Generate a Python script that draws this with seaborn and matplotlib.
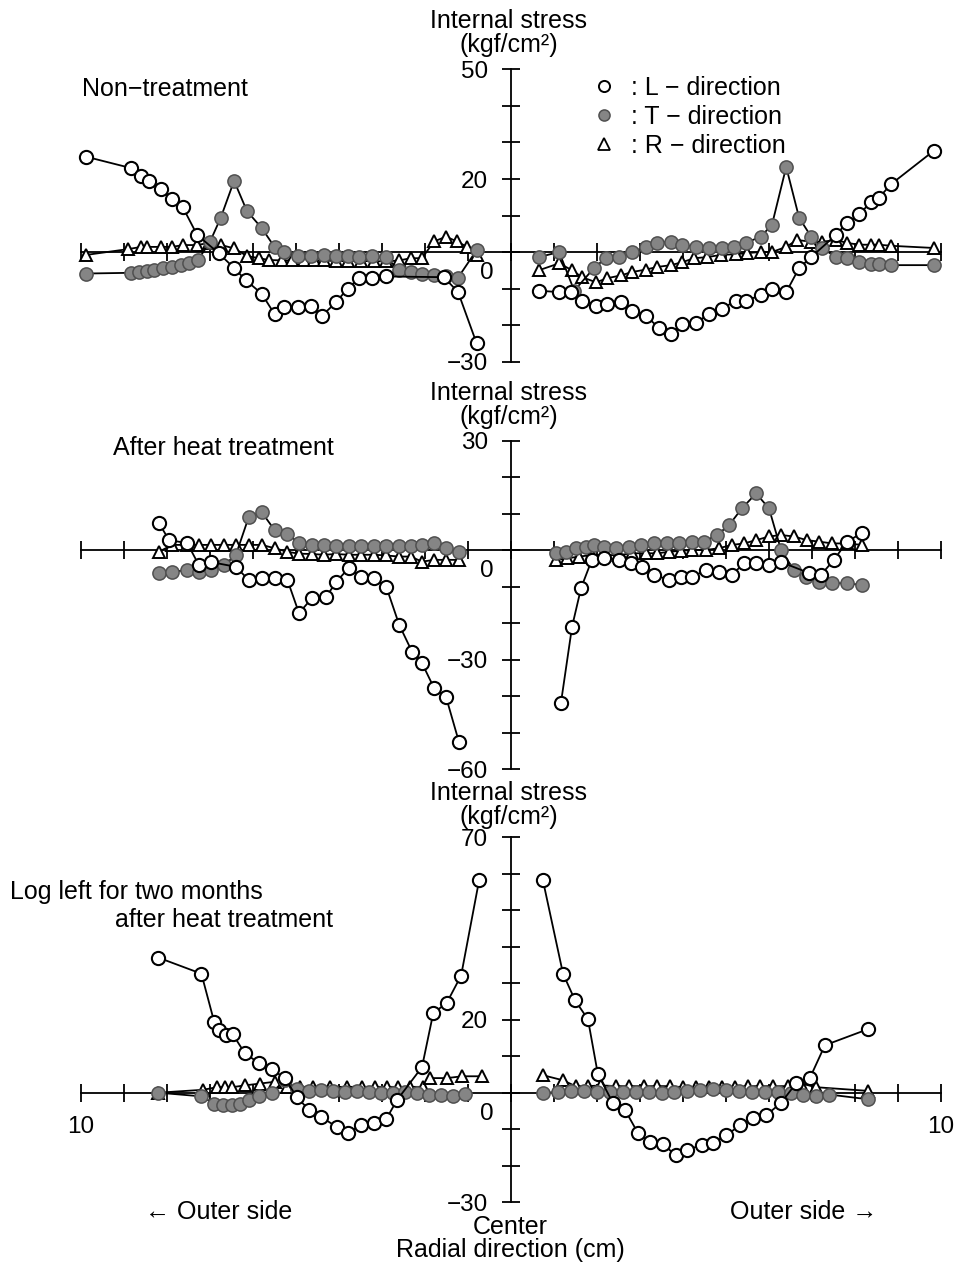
import matplotlib
matplotlib.use("Agg")
import matplotlib.pyplot as plt
from matplotlib.lines import Line2D
import seaborn as sns

# ---------------- data (x in cm from centre: negative = left half, y in kgf/cm^2) -------------
# Panel 1 : Non-treatment
nt_L_left_x = [-9.88, -8.84, -8.6, -8.42, -8.14, -7.88, -7.63, -7.3, -6.8, -6.44, -6.16, -5.8, -5.5,
               -5.28, -4.95, -4.65, -4.4, -4.07, -3.8, -3.53, -3.23, -2.9, -1.56, -1.23, -0.8]
nt_L_left_y = [26.1, 23, 20.8, 19.5, 17.2, 14.4, 12.2, 4.7, -0.3, -4.4, -7.8, -11.4, -17,
               -15.2, -15, -14.7, -17.5, -13.8, -10, -7.2, -7.2, -6.7, -6.9, -11, -25]
nt_T_left_x = [-9.88, -8.84, -8.65, -8.46, -8.3, -8.1, -7.88, -7.67, -7.5, -7.28, -7.0, -6.75, -6.44,
               -6.14, -5.8, -5.5, -5.28, -4.95, -4.65, -4.35, -4.07, -3.8, -3.53, -3.23, -2.9, -2.6,
               -2.33, -2.07, -1.79, -1.51, -1.23, -0.8]
nt_T_left_y = [-5.9, -5.7, -5.5, -5.2, -5.0, -4.5, -4.0, -3.5, -3.0, -2.2, 2.8, 9.4, 19.5,
               11.2, 6.6, 1.4, 0, -1.0, -1.0, -0.8, -1.2, -1.0, -1.3, -1.2, -1.5, -5.0,
               -5.5, -6.0, -6.2, -6.5, -7.0, 0.5]
nt_R_left_x = [-9.88, -8.9, -8.6, -8.46, -8.14, -7.88, -7.63, -7.3, -7.02, -6.74, -6.44, -6.14, -5.86,
               -5.63, -5.33, -5.09, -4.81, -4.58, -4.35, -4.07, -3.8, -3.49, -3.19, -2.9, -2.6,
               -2.33, -2.07, -1.79, -1.51, -1.26, -1.02, -0.79]
nt_R_left_y = [-0.8, 0.8, 1.4, 1.4, 1.4, 1.4, 1.9, 1.9, 2.5, 1.9, 1.0, -1.1, -1.7,
               -2.2, -2.3, -2.3, -2.3, -2.3, -2.3, -2.5, -2.5, -2.5, -2.5, -2.6, -2.3,
               -1.7, -1.7, 2.9, 4.2, 2.9, 1.4, -0.8]
nt_L_right_x = [0.65, 1.12, 1.4, 1.65, 1.98, 2.23, 2.56, 2.81, 3.14, 3.44, 3.72, 3.98, 4.3, 4.6,
                4.9, 5.23, 5.46, 5.81, 6.07, 6.4, 6.7, 6.98, 7.56, 7.81, 8.09, 8.37, 8.56, 8.84, 9.84]
nt_L_right_y = [-10.6, -11, -11, -13.3, -14.7, -14.2, -13.8, -16.1, -17.5, -20.8, -22.5, -19.7, -19.4, -17,
                -15.6, -13.3, -13.3, -11.9, -10, -11, -4.4, -1.4, 4.7, 8, 10.3, 13.6, 14.9, 18.6, 27.8]
nt_T_right_x = [0.65, 1.12, 1.47, 1.93, 2.2, 2.5, 2.81, 3.14, 3.4, 3.72, 3.98, 4.3, 4.6, 4.9,
                5.19, 5.46, 5.81, 6.07, 6.4, 6.7, 6.98, 7.23, 7.56, 7.81, 8.09, 8.37, 8.56, 8.84, 9.84]
nt_T_right_y = [-1.4, 0, -10.6, -4.4, -1.7, -1.4, 0, 1.4, 2.5, 2.8, 1.9, 1.4, 1.1, 1.1,
                1.4, 2.5, 4.2, 7.5, 23.3, 9.4, 4.2, 1.1, -1.4, -1.7, -2.8, -3.2, -3.3, -3.6, -3.6]
nt_R_right_x = [0.65, 1.12, 1.42, 1.65, 1.98, 2.23, 2.56, 2.81, 3.14, 3.4, 3.72, 3.98, 4.26, 4.56,
                4.88, 5.23, 5.49, 5.81, 6.07, 6.4, 6.65, 6.98, 7.23, 7.56, 7.81, 8.09, 8.37, 8.56, 8.84, 9.84]
nt_R_right_y = [-5, -3.1, -5, -6.9, -8.3, -7.2, -6.4, -5.5, -4.8, -4.1, -3.6, -2.8, -1.7, -1.4,
                -0.8, -0.6, -0.3, 0, 0, 1.4, 3.3, 2.8, 2.8, 3.3, 2.5, 2.0, 2.0, 2.0, 1.7, 1.1]

# Panel 2 : After heat treatment
ht_L_left_x = [-8.19, -7.95, -7.53, -7.26, -6.98, -6.4, -6.1, -5.8, -5.5, -5.2, -4.93, -4.63, -4.3,
               -4.07, -3.77, -3.49, -3.19, -2.9, -2.6, -2.3, -2.07, -1.79, -1.51, -1.21]
ht_L_left_y = [7.4, 2.7, 1.9, -4.1, -3.3, -4.6, -8.2, -7.7, -7.7, -8.2, -17.3, -13.2, -12.9,
               -8.8, -4.9, -7.4, -7.7, -10.1, -20.5, -27.9, -31, -37.8, -40.3, -52.6]
ht_T_left_x = [-8.19, -7.88, -7.53, -7.26, -6.98, -6.67, -6.4, -6.1, -5.8, -5.5, -5.2, -4.93, -4.63,
               -4.35, -4.07, -3.77, -3.49, -3.19, -2.9, -2.6, -2.33, -2.07, -1.79, -1.51, -1.21]
ht_T_left_y = [-6.3, -6.0, -5.5, -6.0, -5.5, -4.1, -1.4, 9.0, 10.4, 5.5, 4.4, 1.9, 1.5,
               1.4, 1.2, 1.2, 1.1, 1.1, 1.0, 1.0, 1.0, 1.5, 1.8, 0.5, -0.5]
ht_R_left_x = [-8.19, -7.88, -7.53, -7.26, -6.98, -6.67, -6.4, -6.1, -5.8, -5.5, -5.2, -4.93, -4.63,
               -4.35, -4.07, -3.77, -3.49, -3.19, -2.9, -2.6, -2.33, -2.07, -1.79, -1.51, -1.21]
ht_R_left_y = [-0.5, 1.4, 1.4, 1.4, 1.4, 1.4, 1.4, 1.4, 1.4, 0.5, -0.5, -1.0, -1.1,
               -1.3, -1.1, -1.3, -1.3, -1.3, -1.5, -1.8, -1.8, -3.2, -2.7, -2.7, -2.7]
ht_L_right_x = [1.16, 1.42, 1.63, 1.88, 2.16, 2.5, 2.79, 3.05, 3.33, 3.67, 3.95, 4.21, 4.53,
                4.84, 5.14, 5.42, 5.7, 6.0, 6.28, 6.93, 7.21, 7.51, 7.81, 8.16]
ht_L_right_y = [-42, -21, -10.4, -2.7, -2.2, -2.7, -3.6, -4.6, -6.8, -8.2, -7.4, -7.4, -5.5,
                -6.0, -6.8, -3.6, -3.6, -4.1, -3.3, -6.3, -6.8, -2.7, 2.2, 4.7]
ht_T_right_x = [1.05, 1.28, 1.51, 1.74, 1.93, 2.16, 2.44, 2.74, 3.02, 3.33, 3.63, 3.91, 4.21,
                4.49, 4.79, 5.07, 5.37, 5.7, 6.0, 6.28, 6.58, 6.86, 7.16, 7.47, 7.81, 8.16]
ht_T_right_y = [-0.9, -0.5, 0.5, 0.9, 1.4, 0.9, 0.5, 0.9, 1.4, 1.8, 2.0, 2.0, 2.3,
                2.3, 4.1, 6.8, 11.4, 15.5, 11.4, 0, -5.5, -7.3, -8.7, -9.1, -9.1, -9.6]
ht_R_right_x = [1.05, 1.3, 1.58, 1.88, 2.16, 2.51, 2.81, 3.14, 3.4, 3.67, 3.95, 4.21, 4.53,
                4.84, 5.14, 5.42, 5.7, 6.0, 6.28, 6.58, 6.88, 7.16, 7.47, 7.81, 8.16]
ht_R_right_y = [-2.7, -2.3, -1.8, -1.4, -1.4, -1.4, -0.9, -0.9, -0.9, -0.5, -0.2, 0, 0,
                0.5, 1.4, 1.8, 2.7, 3.7, 4.1, 3.7, 2.7, 2.3, 1.8, 1.8, 1.4]

# Panel 3 : Log left for two months after heat treatment
tm_L_left_x = [-8.2, -7.2, -6.9, -6.8, -6.63, -6.47, -6.19, -5.86, -5.56, -5.26, -4.98, -4.7, -4.42,
               -4.05, -3.79, -3.49, -3.19, -2.9, -2.65, -2.07, -1.81, -1.49, -1.16, -0.74]
tm_L_left_y = [37, 32.6, 19.3, 17.1, 15.7, 16, 10.8, 8.1, 6.4, 4, -1.2, -4.7, -6.6,
               -9.4, -11, -8.8, -8.3, -7.2, -2, 7, 21.7, 24.7, 32.1, 58.3]
tm_T_left_x = [-8.2, -7.2, -6.9, -6.7, -6.5, -6.3, -6.1, -5.86, -5.56, -5.26, -4.98, -4.7, -4.42,
               -4.14, -3.86, -3.58, -3.3, -3.02, -2.74, -2.46, -2.18, -1.9, -1.62, -1.34, -1.06]
tm_T_left_y = [0, -1, -3, -3.3, -3.3, -3, -2, -1, 0, 3.5, 1.0, 0.5, 0.8,
               0.5, 0.3, 0.5, 0.3, 0, 0, 0.3, 0, -0.5, -0.6, -0.8, -0.3]
tm_R_left_x = [-8.2, -7.16, -6.84, -6.65, -6.49, -6.19, -5.84, -5.49, -5.21, -4.91, -4.6, -4.21,
               -3.81, -3.47, -3.16, -2.88, -2.63, -2.35, -2.05, -1.88, -1.49, -1.14, -0.67]
tm_R_left_y = [0, 0.8, 1.5, 1.5, 1.5, 2.0, 2.5, 3.0, 1.5, 1.6, 1.6, 1.6,
               1.6, 1.6, 1.6, 1.6, 1.6, 1.6, 1.6, 4.0, 4.0, 4.5, 4.5]
tm_L_right_x = [0.74, 1.21, 1.49, 1.79, 2.02, 2.37, 2.65, 2.95, 3.23, 3.53, 3.83, 4.09, 4.44,
                4.7, 5.0, 5.33, 5.63, 5.93, 6.28, 6.63, 6.95, 7.3, 8.3]
tm_L_right_y = [58.3, 32.6, 25.3, 20.1, 5.1, -2.8, -4.7, -11, -13.5, -14.1, -17.1, -15.7, -14.3,
                -13.8, -11.7, -8.9, -7, -6.2, -2.8, 2.6, 4, 13, 17.4]
tm_T_right_x = [0.74, 1.1, 1.4, 1.7, 2.0, 2.3, 2.6, 2.9, 3.2, 3.5, 3.8, 4.1, 4.4,
                4.7, 5.0, 5.3, 5.6, 5.9, 6.2, 6.5, 6.8, 7.1, 7.4, 8.3]
tm_T_right_y = [-0.2, 0.3, 0.5, 0.5, 0.3, 0.3, 0.3, 0.3, 0.3, 0.0, 0.3, 0.5, 0.8,
                1.0, 0.8, 0.5, 0.3, 0.3, 0.3, 0.0, -0.5, -0.8, -0.5, -1.8]
tm_R_right_x = [0.74, 1.21, 1.5, 1.8, 2.1, 2.45, 2.75, 3.1, 3.4, 3.7, 4.0, 4.3, 4.6,
                4.9, 5.2, 5.5, 5.8, 6.1, 6.45, 6.75, 7.1, 8.3]
tm_R_right_y = [4.8, 3.4, 1.8, 1.8, 2.0, 1.8, 1.8, 1.8, 1.8, 1.8, 1.5, 1.5, 1.5,
                1.5, 1.5, 1.8, 1.8, 1.8, 1.8, 2.5, 1.5, 0.5]

panel_titles = ["Non\u2212treatment", "After heat treatment",
                "Log left for two months", "after heat treatment"]
y_labelled_ticks = [[50, 20, -30], [30, -30, -60], [70, 20, -30]]
y_bounds = [(-30, 50), (-60, 30), (-30, 70)]
legend_labels = [": L \u2212 direction", ": T \u2212 direction", ": R \u2212 direction"]

# ---------------- styling ----------------
sns.set_theme(style="ticks")
plt.rcParams["font.family"] = ["Liberation Sans", "DejaVu Sans"]
plt.rcParams["axes.edgecolor"] = "black"
plt.rcParams["xtick.color"] = "black"
plt.rcParams["ytick.color"] = "black"
plt.rcParams["text.color"] = "black"

W, H = 958, 1268
FS = 18
fig = plt.figure(figsize=(W / 100, H / 100), dpi=100)

CX = 511      # pixel of x = 0
PPC = 43      # pixels per cm
PPU = 3.65    # pixels per kgf/cm2

GRAY = "#858585"
STY = {
    "L": dict(marker="o", markersize=9.5, markerfacecolor="white", markeredgecolor="black",
              markeredgewidth=1.5, zorder=5),
    "T": dict(marker="o", markersize=9.5, markerfacecolor=GRAY, markeredgecolor="#505050",
              markeredgewidth=1.1, zorder=4),
    "R": dict(marker="^", markersize=9, markerfacecolor="white", markeredgecolor="black",
              markeredgewidth=1.4, zorder=3),
}


def make_ax(zero_py, ylo, yhi):
    xlo, xhi = -10.6, 10.6
    left = CX + xlo * PPC
    width = (xhi - xlo) * PPC
    top = zero_py - yhi * PPU
    height = (yhi - ylo) * PPU
    ax = fig.add_axes([left / W, 1 - (top + height) / H, width / W, height / H])
    ax.patch.set_alpha(0)
    return ax, (xlo, xhi, ylo, yhi)


def draw(ax, x, y, kind):
    sns.lineplot(x=x, y=y, ax=ax, sort=False, estimator=None, color="black",
                 linewidth=1.3, legend=False, clip_on=False, **STY[kind])


def ftext(x, y, s, **kw):
    fig.text(x / W, 1 - y / H, s, fontsize=FS, **kw)


panels = [
    (252, (-33, 53), [(nt_R_left_x, nt_R_left_y, "R"), (nt_R_right_x, nt_R_right_y, "R"),
                      (nt_T_left_x, nt_T_left_y, "T"), (nt_T_right_x, nt_T_right_y, "T"),
                      (nt_L_left_x, nt_L_left_y, "L"), (nt_L_right_x, nt_L_right_y, "L")]),
    (550, (-63, 33), [(ht_R_left_x, ht_R_left_y, "R"), (ht_R_right_x, ht_R_right_y, "R"),
                      (ht_T_left_x, ht_T_left_y, "T"), (ht_T_right_x, ht_T_right_y, "T"),
                      (ht_L_left_x, ht_L_left_y, "L"), (ht_L_right_x, ht_L_right_y, "L")]),
    (1092.7, (-33, 73), [(tm_R_left_x, tm_R_left_y, "R"), (tm_R_right_x, tm_R_right_y, "R"),
                         (tm_T_left_x, tm_T_left_y, "T"), (tm_T_right_x, tm_T_right_y, "T"),
                         (tm_L_left_x, tm_L_left_y, "L"), (tm_L_right_x, tm_L_right_y, "L")]),
]

axes = []
for i, (zero_py, (ylo, yhi), series) in enumerate(panels):
    ax, lims = make_ax(zero_py, ylo, yhi)
    for x, y, kind in series:
        draw(ax, x, y, kind)
    ax.set_xlim(lims[0], lims[1])
    ax.set_ylim(lims[2], lims[3])
    ax.set_xlabel("")
    ax.set_ylabel("")
    for s in ["top", "right"]:
        ax.spines[s].set_visible(False)
    for s in ["left", "bottom"]:
        ax.spines[s].set_linewidth(1.3)
        ax.spines[s].set_color("black")
        ax.spines[s].set_zorder(2)
    ax.spines["left"].set_position(("data", 0))
    ax.spines["bottom"].set_position(("data", 0))
    b0, b1 = y_bounds[i]
    ax.spines["left"].set_bounds(b0, b1)
    ax.spines["bottom"].set_bounds(-10, 10)

    xt = list(range(-10, 11))
    ax.set_xticks(xt)
    if i == 2:
        ax.set_xticklabels(["10" if abs(v) == 10 else "" for v in xt])
    else:
        ax.set_xticklabels([""] * len(xt))
    ax.set_yticks(y_labelled_ticks[i])
    ax.set_yticklabels([f"{v:d}".replace("-", "\u2212") for v in y_labelled_ticks[i]])
    ax.set_yticks(list(range(b0, b1 + 1, 10)), minor=True)
    ax.tick_params(axis="both", which="both", direction="inout", length=13, width=1.3,
                   color="black")
    ax.tick_params(axis="both", which="major", labelsize=FS - 0.5, pad=10)
    # the "0" label sits just below the horizontal axis
    ax.annotate("0", xy=(0, 0), xytext=(-17 * 0.72, -21 * 0.72), textcoords="offset points",
                ha="right", va="center", fontsize=FS - 0.5)
    axes.append(ax)

# axis titles
for yc in (21, 393, 793):
    ftext(509, yc, "Internal stress", ha="center", va="center")
    ftext(509, yc + 24, "(kgf/cm\u00b2)", ha="center", va="center")

# panel titles
ftext(82, 89, panel_titles[0], ha="left", va="center")
ftext(113, 448, panel_titles[1], ha="left", va="center")
ftext(10, 892, panel_titles[2], ha="left", va="center")
ftext(115, 920, panel_titles[3], ha="left", va="center")

# legend
handles = [Line2D([], [], linestyle="none", marker="o", markersize=8, markerfacecolor="white",
                  markeredgecolor="black", markeredgewidth=1.4),
           Line2D([], [], linestyle="none", marker="o", markersize=8, markerfacecolor=GRAY,
                  markeredgecolor="#505050", markeredgewidth=1.1),
           Line2D([], [], linestyle="none", marker="^", markersize=8, markerfacecolor="white",
                  markeredgecolor="black", markeredgewidth=1.3)]
axes[0].legend(handles, legend_labels, loc="upper left",
               bbox_to_anchor=(596 / W, 1 - 76 / H), bbox_transform=fig.transFigure,
               frameon=False, fontsize=FS, handlelength=0.6, handletextpad=0.8,
               labelspacing=0.2, borderpad=0, borderaxespad=0)

# bottom texts
ftext(145, 1212, "\u2190 Outer side", ha="left", va="center")
ftext(730, 1212, "Outer side \u2192", ha="left", va="center")
ftext(510, 1227, "Center", ha="center", va="center")
ftext(510, 1250, "Radial direction (cm)", ha="center", va="center")

fig.savefig("out.png", dpi=100)
